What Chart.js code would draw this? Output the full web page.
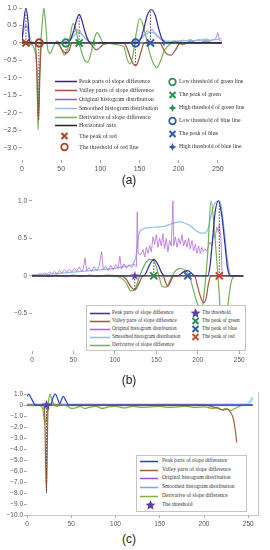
<!DOCTYPE html>
<html>
<head>
<meta charset="utf-8">
<script src="https://cdn.jsdelivr.net/npm/chart.js@4.4.0/dist/chart.umd.min.js"></script>
<style>
html, body { margin: 0; padding: 0; background: #fff; width: 270px; height: 550px; overflow: hidden; }
body { position: relative; }
.box { position: absolute; left: 0; width: 270px; }
.cap { position: absolute; left: 0; width: 258px; text-align: center; font-family: "Liberation Sans", Arial, sans-serif; font-size: 12px; color: #222; line-height: 12px; }
.legbox { position: absolute; background: #fff; border: 1px solid #c4c4c4; box-sizing: border-box; }
.it { position: absolute; transform: translateY(-50%); line-height: 0; }
.tx { position: absolute; transform: translateY(-50%); font-family: "Liberation Serif", "Times New Roman", serif; color: #333; white-space: nowrap; line-height: 1; }
</style>
</head>
<body>
<div class="box" style="top:0;height:175px"><canvas id="chartA"></canvas></div>
<div class="box" style="top:190px;height:175px"><canvas id="chartB"></canvas></div>
<div class="box" style="top:385px;height:145px"><canvas id="chartC"></canvas></div>
<div class="cap" style="top:174px">(a)</div>
<div class="cap" style="top:374px">(b)</div>
<div class="cap" style="top:533px">(c)</div>
<div id="legends"></div>
<script>
// ---- data: (a) ----
const ticksX = [0, 50, 100, 150, 200, 250];
const ticksYA = [-3, -2.5, -2, -1.5, -1, -0.5, 0, 0.5, 1];
const ticksYB = [-0.5, 0, 0.5, 1];
const ticksYC = [-10, -9, -8, -7, -6, -5, -4, -3, -2, -1, 0, 1];

const aPeakX = [0, 2, 5, 8, 10, 58, 62, 66, 70, 73, 76, 80, 84, 88, 148, 152, 156, 160, 165, 170, 174, 178, 182, 255];
const aPeakY = [0, 0.55, 1.0, 0.55, 0, 0, 0.1, 0.35, 0.68, 0.82, 0.68, 0.35, 0.1, 0, 0, 0.15, 0.45, 0.8, 0.95, 0.8, 0.45, 0.15, 0, 0];
const aValleyX = [0, 17, 19, 21, 23, 25, 44, 48, 52, 56, 60, 64, 86, 90, 95, 100, 106, 130, 134, 138, 142, 145, 148, 152, 156, 176, 180, 184, 190, 196, 202, 255];
const aValleyY = [0, 0, -0.8, -2.2, -0.8, 0, 0, -0.08, -0.22, -0.3, -0.22, 0, 0, -0.1, -0.2, -0.12, 0, 0, -0.15, -0.4, -0.6, -0.65, -0.55, -0.25, 0, 0, -0.15, -0.3, -0.35, -0.2, 0, 0];
const aOrigX = [0, 2, 4, 5, 6, 8, 10, 14, 20, 30, 40, 50, 58, 62, 66, 70, 72, 74, 76, 80, 84, 90, 100, 110, 120, 130, 140, 148, 152, 156, 160, 163, 166, 170, 174, 178, 184, 190, 200, 205, 210, 215, 220, 225, 230, 235, 240, 245, 248, 250, 252, 255];
const aOrigY = [0.1, 0.35, 0.5, 0.45, 0.5, 0.3, 0.05, 0.02, 0, 0, 0, 0.02, 0.05, 0.15, 0.3, 0.4, 0.3, 0.35, 0.25, 0.15, 0.05, 0.02, 0, 0, 0, 0.01, 0.02, 0.05, 0.15, 0.25, 0.35, 0.3, 0.4, 0.25, 0.15, 0.08, 0.03, 0.02, 0.05, 0.08, 0.06, 0.1, 0.05, 0.1, 0.08, 0.12, 0.06, 0.1, 0.15, 0.3, 0.08, 0.05];
const aSmoothX = [0, 3, 5, 7, 10, 15, 55, 62, 68, 72, 76, 82, 90, 145, 152, 158, 164, 170, 176, 185, 200, 210, 220, 230, 240, 250, 255];
const aSmoothY = [0.2, 0.45, 0.5, 0.45, 0.15, 0, 0, 0.1, 0.25, 0.3, 0.25, 0.1, 0, 0, 0.12, 0.25, 0.3, 0.28, 0.15, 0.05, 0.05, 0.07, 0.07, 0.08, 0.08, 0.1, 0.12];
const aDerivX = [0, 4, 8, 12, 16, 19, 20.5, 22, 24, 26, 28, 30, 33, 36, 40, 45, 50, 54, 58, 62, 65, 68, 72, 76, 80, 84, 88, 92, 96, 100, 105, 110, 120, 130, 134, 138, 142, 146, 150, 154, 158, 162, 167, 172, 177, 182, 188, 195, 205, 215, 225, 235, 245, 255];
const aDerivY = [0, 0.05, -0.05, -0.05, -0.2, -0.8, -2.5, -1.2, 0, 0.6, 1.0, 0.6, -0.2, -0.3, -0.1, 0.05, -0.15, -0.35, -0.2, 0.25, 0.55, 0.45, 0.05, -0.25, -0.5, -0.55, -0.3, 0.1, 0.3, 0.15, -0.05, 0, -0.05, -0.1, -0.45, -0.6, -0.3, 0.3, 0.7, 0.55, 0.2, -0.2, -0.55, -0.7, -0.5, -0.2, -0.05, 0.05, -0.05, 0.05, 0, 0.05, 0, 0];
const aAxisX = [0, 255];
const aAxisY = [0, 0];
const aDropX = [5, 73, 164, 56, 145, 21.5];
const aDropTop = [1.0, 0.82, 0.95, -0.3, -0.65, -2.2];
const aRedPeak = [5], aRedThr = [22];
const aGreenLow = [56], aGreenPeak = [73], aGreenHigh = [92];
const aBlueLow = [145], aBluePeak = [164], aBlueHigh = [181];

// ---- data: (b) ----
const bOrigX = [0, 3, 6, 9, 12, 15, 18, 21, 24, 27, 30, 33, 36, 39, 42, 45, 48, 51, 54, 57, 60, 62, 64, 66, 69, 72, 75, 78, 81, 84, 86, 89, 92, 95, 98, 101, 104, 106, 108, 111, 114, 117, 120, 123, 126, 127, 128, 131, 134, 136, 138, 140, 142, 144, 146, 148, 150, 152, 154, 156, 158, 160, 162, 164, 166, 168, 170, 171, 173, 175, 177, 179, 181, 183, 185, 187, 189, 191, 193, 195, 197, 199, 201, 203, 205, 207, 209, 211, 213, 215, 217, 219, 221, 223, 225, 226, 228, 229, 230, 255];
const bOrigY = [0.01, 0.02, 0.01, 0.03, 0.02, 0.04, 0.02, 0.05, 0.03, 0.06, 0.03, 0.07, 0.04, 0.08, 0.05, 0.09, 0.05, 0.1, 0.06, 0.12, 0.06, 0.1, 0.24, 0.07, 0.11, 0.06, 0.12, 0.07, 0.13, 0.32, 0.08, 0.13, 0.07, 0.14, 0.08, 0.15, 0.1, 0.26, 0.09, 0.16, 0.1, 0.15, 0.11, 0.16, 0.12, 0.85, 0.3, 0.28, 0.35, 0.25, 0.38, 0.3, 0.4, 0.32, 0.52, 0.42, 0.55, 0.38, 0.5, 0.4, 0.56, 0.36, 0.5, 0.32, 0.47, 0.4, 1.0, 0.4, 0.52, 0.38, 0.5, 0.42, 0.55, 0.4, 0.48, 0.38, 0.5, 0.36, 0.47, 0.33, 0.42, 0.3, 0.4, 0.3, 0.38, 0.32, 0.36, 0.33, 0.4, 0.45, 0.4, 0.55, 0.5, 0.65, 0.58, 0.68, 0.5, 0.1, 0, 0];
const bSmoothX = [0, 20, 40, 60, 80, 100, 115, 122, 126, 129, 133, 140, 150, 160, 170, 178, 185, 192, 198, 204, 209, 213, 217, 221, 225, 228, 232, 236, 240, 255];
const bSmoothY = [0, 0.02, 0.04, 0.06, 0.08, 0.1, 0.13, 0.16, 0.3, 0.55, 0.62, 0.64, 0.65, 0.66, 0.7, 0.72, 0.7, 0.66, 0.6, 0.57, 0.57, 0.65, 0.85, 0.97, 1.0, 0.95, 0.6, 0.2, 0, 0];
const bPeakX = [0, 135, 138, 142, 147, 152, 156, 160, 176, 180, 184, 188, 192, 196, 212, 215, 218, 221, 225, 229, 233, 236, 240, 255];
const bPeakY = [0, 0, 0.05, 0.15, 0.22, 0.15, 0.05, 0, 0, 0.03, 0.06, 0.07, 0.04, 0, 0, 0.15, 0.5, 0.85, 1.0, 0.8, 0.4, 0.1, 0, 0];
const bValleyX = [0, 108, 114, 119, 124, 129, 134, 158, 161, 164, 167, 171, 196, 200, 204, 207, 210, 213, 216, 255];
const bValleyY = [0, 0, -0.05, -0.14, -0.19, -0.1, 0, 0, -0.08, -0.14, -0.08, 0, 0, -0.15, -0.3, -0.36, -0.3, -0.1, 0, 0];
const bDerivX = [0, 10, 20, 30, 40, 50, 60, 70, 80, 90, 100, 108, 114, 119, 124, 130, 136, 142, 147, 152, 157, 162, 167, 172, 178, 184, 190, 195, 200, 205, 208, 212, 216, 220, 225, 230, 235, 240, 246, 255];
const bDerivY = [0, 0.01, -0.01, 0.01, -0.01, 0.01, -0.01, 0.01, -0.01, 0.01, 0, -0.03, -0.1, -0.2, -0.18, 0, 0.15, 0.22, 0.2, 0.05, -0.14, -0.15, -0.05, 0.05, 0.1, 0.08, 0, -0.2, -0.38, -0.42, -0.2, 0.3, 1.0, 0.6, -0.1, -0.8, -0.5, -0.1, 0, 0];
const bAxisX = [0, 254];
const bAxisY = [0, 0];
const bDropX = [124, 147, 226];
const bDropTop = [-0.19, 0.22, 1.0];
const bThr = [124], bGreenPeak = [147], bBluePeak = [188], bRedPeak = [226];

// ---- data: (c) ----
const cPeakX = [0, 2, 5, 8, 10, 27, 29, 32, 35, 37, 39, 41, 44, 47, 255];
const cPeakY = [0.8, 1.0, 0.6, 0.15, 0, 0, 0.6, 1.0, 0.5, 0.1, 0.5, 0.8, 0.4, 0, 0];
const cValleyX = [0, 19, 20, 22, 23.5, 24.5, 200, 210, 216, 222, 226, 230, 233, 235, 237];
const cValleyY = [0, 0, -1.0, -8.0, -1.0, 0, 0, -0.15, -0.3, -0.45, -0.35, -0.65, -1.2, -2.1, -3.4];
const cOrigX = [0, 50, 100, 150, 200, 250, 255];
const cOrigY = [0.02, 0.03, 0.02, 0.03, 0.02, 0.03, 0.02];
const cSmoothX = [0, 245, 250, 253, 255];
const cSmoothY = [0.05, 0.05, 0.1, 0.4, 0.7];
const cDerivX = [0, 5, 10, 15, 18, 20, 22, 24, 26, 28, 31, 34, 38, 42, 46, 50, 55, 60, 65, 70, 78, 85, 92, 100, 110, 120, 130, 140, 150, 160, 170, 180, 190, 200, 210, 215, 220, 225, 230, 235, 240, 245, 250, 255];
const cDerivY = [0, 0.02, 0, -0.05, -0.4, -1.6, -1.2, 0.2, 1.0, 0.5, 0, -0.1, 0, 0, -0.1, -0.3, -0.25, -0.1, -0.3, -0.2, -0.1, -0.3, -0.15, -0.1, -0.25, -0.1, -0.2, -0.15, -0.1, -0.2, -0.15, -0.1, -0.2, -0.15, -0.3, -0.2, -0.4, -0.3, -0.5, -0.3, -0.1, 0, 0, 0];
const cDropX = [22];
const cDropTop = [-8];
const cThr = [22];

// legend texts
const legA1 = ['Peak parts of slope difference', 'Valley parts of slope difference', 'Original histogram distribution', 'Smoothed histogram distribution', 'Derivative of slope difference', 'Horizontal axis', 'The peak of red', 'The threshold of red line'];
const legA2 = ['Low threshold of green line', 'The peak of green', 'High threshold of green line', 'Low threshold of blue line', 'The peak of blue', 'High threshold of blue line'];
const legB1 = ['Peak parts of slope difference', 'Valley parts of slope difference', 'Original histogram distribution', 'Smoothed histogram distribution', 'Derivative of slope difference'];
const legB2 = ['The threshold', 'The peak of green', 'The peak of blue', 'The peak of red'];
const legC = ['Peak parts of slope difference', 'Valley parts of slope difference', 'Original histogram distribution', 'Smoothed histogram distribution', 'Derivative of slope difference', 'The threshold'];

// colours
const PEAK = '#2d2b98', VALLEY = '#a4553b', ORIG = '#b86ad8', SMOOTH = '#8fbfe8', DERIV = '#74b05a', AXIS = '#222';
const RED = '#a8401e', GREEN = '#23914a', BLUE = '#2a5bb0', STAR = '#5a3fa8';
const FONT_T = '"Liberation Sans", Arial, sans-serif';

function fmt(v) {
    if (Math.abs(v) < 1e-9) return '0';
    return (v < 0 ? '\u2212' : '') + Math.abs(v).toFixed(1);
}

function pts(xs, ys) {
    return xs.map((x, i) => ({ x: x, y: ys[i] }));
}

function line(xs, ys, color, width, smooth) {
    return {
        data: pts(xs, ys), showLine: true, borderColor: color, backgroundColor: color,
        borderWidth: width, pointRadius: 0, fill: false,
        tension: smooth ? 0.4 : 0, cubicInterpolationMode: smooth ? 'monotone' : 'default'
    };
}

function drops(xs, tops, color) {
    return xs.map((x, i) => ({
        data: [{ x: x, y: 0 }, { x: x, y: tops[i] }], showLine: true, borderColor: color,
        borderWidth: 1, borderDash: [1.5, 1.5], pointRadius: 0
    }));
}

function starCanvas(n, R, r, color) {
    const c = document.createElement('canvas');
    c.width = c.height = Math.ceil(2 * R + 2);
    const g = c.getContext('2d');
    const cx = c.width / 2, cy = c.height / 2;
    g.beginPath();
    for (let i = 0; i < 2 * n; i++) {
        const a = -Math.PI / 2 + i * Math.PI / n;
        const rr = i % 2 === 0 ? R : r;
        g.lineTo(cx + rr * Math.cos(a), cy + rr * Math.sin(a));
    }
    g.closePath();
    g.fillStyle = color;
    g.fill();
    return c;
}

function marks(xs, style, color, r) {
    return {
        data: xs.map(x => ({ x: x, y: 0 })), showLine: false, pointStyle: style,
        pointRadius: r, borderColor: color, backgroundColor: 'rgba(0,0,0,0)', borderWidth: 2
    };
}

function scales(xMax, yMin, yMax, yTicks, yW, xH, fs, pad) {
    return {
        x: {
            type: 'linear', min: 0, max: xMax,
            afterBuildTicks: s => { s.ticks = ticksX.map(v => ({ value: v })); },
            afterFit: s => { s.height = xH; },
            ticks: { font: { family: FONT_T, size: fs }, color: '#555', padding: 2, maxRotation: 0, autoSkip: false },
            grid: { drawOnChartArea: false, tickLength: 3, color: '#aaa' },
            border: { display: false }
        },
        y: {
            type: 'linear', min: yMin, max: yMax,
            afterBuildTicks: s => { s.ticks = yTicks.map(v => ({ value: v })); },
            afterFit: s => { s.width = yW; },
            ticks: { font: { family: FONT_T, size: fs }, color: '#555', padding: pad, autoSkip: false, callback: v => fmt(v) },
            grid: { drawOnChartArea: false, tickLength: 3, color: '#aaa' },
            border: { display: false }
        }
    };
}

const framePlugin = {
    id: 'frame',
    afterDraw(chart, args, opts) {
        if (!opts.color) return;
        const a = chart.chartArea, g = chart.ctx;
        g.save();
        g.strokeStyle = opts.color;
        g.lineWidth = 1;
        g.beginPath();
        g.moveTo(a.left, a.bottom + 0.5);
        g.lineTo(a.right + 0.5, a.bottom + 0.5);
        g.lineTo(a.right + 0.5, a.top);
        g.stroke();
        g.restore();
    }
};

function opts(sc, padding, frame) {
    return {
        responsive: true, maintainAspectRatio: false, animation: false, events: [],
        layout: { padding: padding },
        scales: sc,
        plugins: { legend: { display: false }, tooltip: { enabled: false }, frame: { color: frame } }
    };
}

// chart (a)
new Chart(document.getElementById('chartA'), {
    type: 'scatter',
    plugins: [framePlugin],
    data: {
        datasets: [
            marks(aRedPeak, 'crossRot', RED, 5),
            marks(aRedThr, 'circle', RED, 3.6),
            marks(aGreenLow, 'circle', GREEN, 3.6),
            marks(aGreenPeak, 'crossRot', GREEN, 5),
            marks(aGreenHigh, starCanvas(4, 4, 1.3, GREEN), GREEN, 4),
            marks(aBlueLow, 'circle', BLUE, 3.6),
            marks(aBluePeak, 'crossRot', BLUE, 5),
            marks(aBlueHigh, starCanvas(4, 4, 1.3, BLUE), BLUE, 4),
            ...drops(aDropX, aDropTop, '#555'),
            line(aAxisX, aAxisY, AXIS, 1, false),
            line(aPeakX, aPeakY, PEAK, 1.2, true),
            line(aValleyX, aValleyY, VALLEY, 1.2, true),
            line(aDerivX, aDerivY, DERIV, 1.2, true),
            line(aSmoothX, aSmoothY, SMOOTH, 1.2, true),
            line(aOrigX, aOrigY, ORIG, 0.8, false)
        ]
    },
    options: opts(scales(300, -3.35, 1.0, ticksYA, 22, 15, 7, 2), { left: 0, right: 13, top: 8, bottom: 0 }, null)
});

// chart (b)
new Chart(document.getElementById('chartB'), {
    type: 'scatter',
    plugins: [framePlugin],
    data: {
        datasets: [
            marks(bThr, starCanvas(5, 5, 2, STAR), STAR, 5),
            marks(bGreenPeak, 'crossRot', GREEN, 5),
            marks(bBluePeak, 'crossRot', BLUE, 5),
            marks(bRedPeak, 'crossRot', '#d23a2a', 5),
            ...drops(bDropX, bDropTop, '#444'),
            line(bAxisX, bAxisY, '#444', 1, false),
            line(bPeakX, bPeakY, PEAK, 1.2, true),
            line(bValleyX, bValleyY, VALLEY, 1.2, true),
            line(bDerivX, bDerivY, DERIV, 1.2, true),
            line(bOrigX, bOrigY, ORIG, 0.8, false),
            line(bSmoothX, bSmoothY, SMOOTH, 1.2, true)
        ]
    },
    options: opts(scales(257, -1.0, 1.05, ticksYB, 32, 14, 6.5, 2), { left: 0, right: 25, top: 7, bottom: 0 }, null)
});

// chart (c)
new Chart(document.getElementById('chartC'), {
    type: 'scatter',
    plugins: [framePlugin],
    data: {
        datasets: [
            marks(cThr, starCanvas(5, 5.5, 2.2, STAR), STAR, 5),
            ...drops(cDropX, cDropTop, '#5a4030'),
            line(cPeakX, cPeakY, '#2343c4', 1.2, true),
            line(cValleyX, cValleyY, '#a0603c', 1.2, true),
            line(cDerivX, cDerivY, '#80b040', 1.2, true),
            line(cOrigX, cOrigY, '#9b4fe0', 0.8, false),
            line(cSmoothX, cSmoothY, '#a8e2f4', 3, true)
        ]
    },
    options: opts(scales(261, -10, 1.2, ticksYC, 27, 15, 6.5, 1), { left: 0, right: 12, top: 6, bottom: 0 }, '#c8c8c8')
});

// ---- HTML legends ----
function icon(kind, color, w) {
    if (kind === 'line') return `<svg width="${w}" height="4"><line x1="0" y1="2" x2="${w}" y2="2" stroke="${color}" stroke-width="1.6"/></svg>`;
    if (kind === 'x') return `<svg width="9" height="9"><path d="M1.5 1.5L7.5 7.5M7.5 1.5L1.5 7.5" stroke="${color}" stroke-width="1.9"/></svg>`;
    if (kind === 'o') return `<svg width="9" height="9"><circle cx="4.5" cy="4.5" r="3.3" fill="none" stroke="${color}" stroke-width="1.7"/></svg>`;
    if (kind === 'p4') return `<svg width="9" height="9"><path d="M4.5 0.5L5.7 3.3L8.5 4.5L5.7 5.7L4.5 8.5L3.3 5.7L0.5 4.5L3.3 3.3Z" fill="${color}"/></svg>`;
    return `<svg width="11" height="11"><path d="M5.5 0.5L6.9 4.1L10.5 4.3L7.7 6.6L8.6 10.3L5.5 8.2L2.4 10.3L3.3 6.6L0.5 4.3L4.1 4.1Z" fill="${color}"/></svg>`;
}

const layer = document.getElementById('legends');
function row(iconHtml, iconLeft, y, text, textLeft, size) {
    const ic = document.createElement('div');
    ic.className = 'it';
    ic.style.left = iconLeft + 'px';
    ic.style.top = y + 'px';
    ic.innerHTML = iconHtml;
    layer.appendChild(ic);
    const tx = document.createElement('div');
    tx.className = 'tx';
    tx.style.left = textLeft + 'px';
    tx.style.top = y + 'px';
    tx.style.fontSize = size + 'px';
    tx.textContent = text;
    layer.appendChild(tx);
}
function legBox(l, t, w, h) {
    const b = document.createElement('div');
    b.className = 'legbox';
    b.style.cssText = `left:${l}px;top:${t}px;width:${w}px;height:${h}px`;
    layer.appendChild(b);
}

// (a)
const legA1Icons = [['line', '#3a1e8e'], ['line', VALLEY], ['line', '#a84fd6'], ['line', SMOOTH], ['line', DERIV], ['line', AXIS], ['x', RED], ['o', RED]];
const legA1Y = [81, 90, 99, 108, 116.5, 125, 136, 147];
legA1.forEach((t, i) => {
    const k = legA1Icons[i];
    row(icon(k[0], k[1], 22), k[0] === 'line' ? 55 : 60, legA1Y[i], t, 79, 6);
});
const legA2Icons = [['o', GREEN], ['x', GREEN], ['p4', GREEN], ['o', BLUE], ['x', BLUE], ['p4', BLUE]];
const legA2Y = [82, 95, 108, 121, 134, 147];
legA2.forEach((t, i) => row(icon(legA2Icons[i][0], legA2Icons[i][1]), 167.5, legA2Y[i], t, 179, 5.8));

// (b)
legBox(86, 305, 160, 46);
const legB1Colors = ['#3a2ea8', VALLEY, '#b25ee0', SMOOTH, DERIV];
const legBY = [313, 321, 329, 337, 344.5];
legB1.forEach((t, i) => row(icon('line', legB1Colors[i], 20), 90, legBY[i], t, 112, 5.2));
const legB2Icons = [['star', STAR], ['x', GREEN], ['x', BLUE], ['x', '#c0502a']];
legB2.forEach((t, i) => row(icon(legB2Icons[i][0], legB2Icons[i][1]), legB2Icons[i][0] === 'star' ? 189.5 : 190.5, legBY[i], t, 202, 5.2));

// (c)
legBox(136, 455, 111, 57);
const legCColors = ['#2040c0', '#a0603c', '#9b4fe0', '#70b0f0', '#80b040'];
const legCY = [461, 469.5, 478, 487, 495.5, 504.5];
legC.forEach((t, i) => {
    if (i < 5) row(icon('line', legCColors[i], 18), 140, legCY[i], t, 162, 5.5);
    else row(icon('star', STAR), 144.5, legCY[i], t, 162, 5.5);
});
</script>
</body>
</html>
